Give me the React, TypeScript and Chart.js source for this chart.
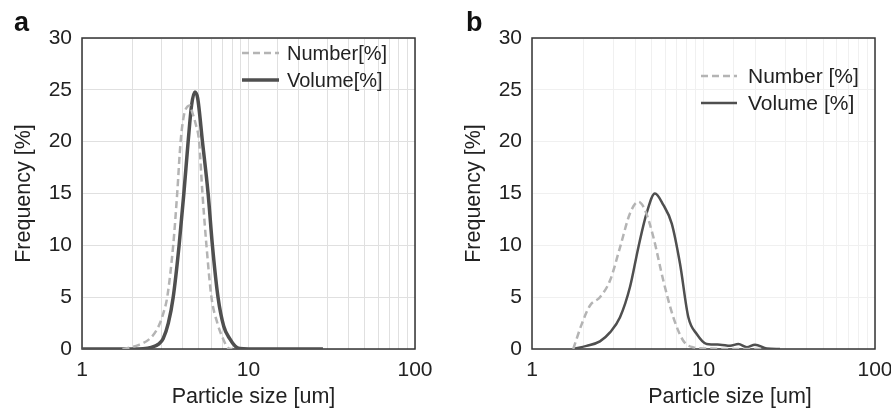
import React, { useEffect, useRef } from "react";
import { Chart, registerables } from "chart.js";

Chart.register(...registerables);

// ---------- data ----------
const xTickLabels = ["1", "10", "100"];
const yTicks = [0, 5, 10, 15, 20, 25, 30];
const xTitle = "Particle size [um]";
const yTitle = "Frequency [%]";

// Panel a
const aNumberX = [1.75, 1.9, 2.2, 2.56, 2.8, 2.94, 3.1, 3.25, 3.53, 3.73, 3.91, 4.1, 4.3, 4.44, 4.6, 4.8, 5.05, 5.29, 5.59, 5.99, 6.5, 7.03, 7.54, 8];
const aNumberY = [0, 0.1, 0.4, 1.0, 1.8, 2.5, 3.6, 5, 10, 15, 20, 22.6, 23.4, 23.5, 22.8, 21.8, 20, 15, 10, 5, 2.5, 1, 0.1, 0];
const aVolumeX = [1, 2, 2.6, 2.9, 3.07, 3.3, 3.53, 3.83, 4.09, 4.34, 4.55, 4.76, 4.95, 5.29, 5.72, 6.07, 6.56, 7.1, 7.71, 8.3, 8.85, 10, 15, 20, 28];
const aVolumeY = [0, 0, 0.15, 0.5, 1.0, 2.5, 5, 10, 15, 20, 23.5, 24.8, 24.2, 20, 15, 10, 5, 2.2, 1.0, 0.3, 0.05, 0, 0, 0, 0];

// Panel b
const bNumberX = [1.74, 1.95, 2.18, 2.49, 2.85, 3.26, 3.73, 4.17, 4.56, 5.1, 5.83, 6.67, 7.62, 8.72, 10.4, 14, 18.7, 22.2];
const bNumberY = [0, 2.4, 4.2, 5.0, 6.6, 9.8, 13.1, 14.2, 13.4, 10.8, 6.6, 3.06, 0.8, 0.16, 0.05, 0, 0, 0];
const bVolumeX = [1.74, 2.08, 2.49, 2.85, 3.26, 3.73, 4.17, 4.66, 5.21, 5.83, 6.53, 7.3, 8.16, 9.13, 10.44, 12.5, 14.3, 15.97, 17.9, 19.97, 23.4, 27.9];
const bVolumeY = [0, 0.3, 0.74, 1.6, 3.06, 6.0, 9.8, 13.1, 15.0, 13.9, 12.1, 8.2, 3.06, 1.45, 0.48, 0.42, 0.32, 0.48, 0.16, 0.42, 0.06, 0];

const FONT = "'Liberation Sans', Arial, Helvetica, sans-serif";
const FS = 21;

const toPts = (xs: number[], ys: number[]) => xs.map((x, i) => ({ x, y: ys[i] }));

type PanelCfg = {
  letter: string;
  numberLabel: string;
  volumeLabel: string;
  numberPts: { x: number; y: number }[];
  volumePts: { x: number; y: number }[];
  gridColor: string;
  volWidth: number;
  numWidth: number;
  yAxisWidth: number;
  rightPad: number;
  yTitlePad: number;
  xTitleX: number;
  legend: { x0: number; x1: number; tx: number; y1: number; y2: number; fs: number };
  letterX: number;
};

function Panel({ cfg }: { cfg: PanelCfg }) {
  const ref = useRef<HTMLCanvasElement | null>(null);
  useEffect(() => {
    if (!ref.current) return;
    const boxPlugin = {
      id: "box",
      beforeDatasetsDraw(chart: any) {
        const { ctx, chartArea: a } = chart;
        ctx.save();
        ctx.strokeStyle = "#333";
        ctx.lineWidth = 1.5;
        ctx.strokeRect(a.left, a.top, a.right - a.left, a.bottom - a.top);
        ctx.restore();
      },
      afterDraw(chart: any) {
        const { ctx } = chart;
        const L = cfg.legend;
        ctx.save();
        // panel letter
        ctx.fillStyle = "#111";
        ctx.font = `bold 27px ${FONT}`;
        ctx.textBaseline = "alphabetic";
        ctx.textAlign = "left";
        ctx.fillText(cfg.letter, cfg.letterX, 31);
        // x axis title
        ctx.fillStyle = "#222";
        ctx.font = `21.5px ${FONT}`;
        ctx.textAlign = "center";
        ctx.fillText(xTitle, cfg.xTitleX, 403);
        // legend
        ctx.textAlign = "left";
        ctx.textBaseline = "middle";
        const ds = chart.data.datasets;
        const rows = [
          { y: L.y1, d: ds[0] },
          { y: L.y2, d: ds[1] },
        ];
        rows.forEach((r) => {
          ctx.beginPath();
          ctx.strokeStyle = r.d.borderColor;
          ctx.lineWidth = r.d.borderWidth;
          ctx.setLineDash(r.d.borderDash || []);
          ctx.moveTo(L.x0, r.y);
          ctx.lineTo(L.x1, r.y);
          ctx.stroke();
          ctx.setLineDash([]);
          ctx.fillStyle = "#222";
          ctx.font = `${L.fs}px ${FONT}`;
          ctx.fillText(r.d.label, L.tx, r.y + 1);
        });
        ctx.restore();
      },
    };
    const chart = new Chart(ref.current, {
      type: "line",
      data: {
        datasets: [
          {
            label: cfg.numberLabel,
            data: cfg.numberPts,
            borderColor: "#b4b4b4",
            borderWidth: cfg.numWidth,
            borderDash: [7, 4],
            pointRadius: 0,
            cubicInterpolationMode: "monotone",
            fill: false,
          },
          {
            label: cfg.volumeLabel,
            data: cfg.volumePts,
            borderColor: "#4f4f4f",
            borderWidth: cfg.volWidth,
            pointRadius: 0,
            cubicInterpolationMode: "monotone",
            fill: false,
          },
        ],
      },
      options: {
        animation: false,
        responsive: false,
        maintainAspectRatio: false,
        layout: { padding: { top: 38, right: cfg.rightPad, left: 0, bottom: 0 } },
        plugins: { legend: { display: false }, tooltip: { enabled: false } },
        scales: {
          x: {
            type: "logarithmic",
            min: 1,
            max: 100,
            grid: { color: cfg.gridColor, lineWidth: 1, drawTicks: false },
            border: { display: false },
            ticks: {
              autoSkip: false,
              maxRotation: 0,
              padding: 9,
              color: "#222",
              font: { family: FONT, size: FS },
              callback: (v: any) => {
                const s = String(Number(v));
                return xTickLabels.includes(s) ? s : "";
              },
            },
            title: { display: false, text: xTitle },
            afterFit: (s: any) => {
              s.height = 61;
              s.paddingLeft = 0;
              s.paddingRight = 0;
            },
          },
          y: {
            min: 0,
            max: 30,
            afterBuildTicks: (s: any) => {
              s.ticks = yTicks.map((v) => ({ value: v }));
            },
            grid: { color: cfg.gridColor, lineWidth: 1, drawTicks: false },
            border: { display: false },
            ticks: {
              padding: 10,
              color: "#222",
              font: { family: FONT, size: FS },
            },
            title: {
              display: true,
              text: yTitle,
              color: "#222",
              font: { family: FONT, size: 21.5 },
              padding: { top: cfg.yTitlePad, bottom: 0 },
            },
            afterFit: (s: any) => {
              s.width = cfg.yAxisWidth;
              s.paddingTop = 0;
              s.paddingBottom = 0;
            },
          },
        },
      },
      plugins: [boxPlugin],
    } as any);
    return () => chart.destroy();
  }, []);
  return <canvas ref={ref} width={445} height={410} style={{ display: "block", width: 445, height: 410 }} />;
}

const panelA: PanelCfg = {
  letter: "a",
  numberLabel: "Number[%]",
  volumeLabel: "Volume[%]",
  numberPts: toPts(aNumberX, aNumberY),
  volumePts: toPts(aVolumeX, aVolumeY),
  gridColor: "#e0e0e0",
  volWidth: 3.5,
  numWidth: 2.5,
  yAxisWidth: 82,
  rightPad: 30,
  yTitlePad: 11,
  xTitleX: 253.5,
  legend: { x0: 242, x1: 279, tx: 287, y1: 53, y2: 80, fs: 20 },
  letterX: 14,
};

const panelB: PanelCfg = {
  letter: "b",
  numberLabel: "Number [%]",
  volumeLabel: "Volume [%]",
  numberPts: toPts(bNumberX, bNumberY),
  volumePts: toPts(bVolumeX, bVolumeY),
  gridColor: "#f0f0f0",
  volWidth: 2.5,
  numWidth: 2.5,
  yAxisWidth: 86,
  rightPad: 16,
  yTitlePad: 15,
  xTitleX: 284,
  legend: { x0: 255, x1: 291, tx: 302, y1: 76, y2: 103, fs: 21 },
  letterX: 20,
};

export default function App() {
  return (
    <div style={{ position: "fixed", left: 0, top: 0, width: 891, height: 410, background: "#fff", display: "flex" }}>
      <Panel cfg={panelA} />
      <div style={{ width: 1, flexShrink: 0 }} />
      <Panel cfg={panelB} />
    </div>
  );
}
